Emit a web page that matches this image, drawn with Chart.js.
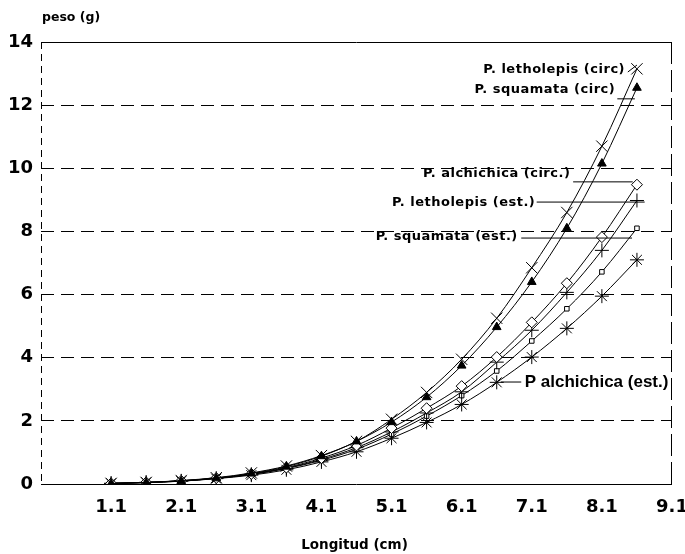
<!DOCTYPE html>
<html><head><meta charset="utf-8">
<script src="https://cdn.jsdelivr.net/npm/chart.js@4"></script>
<style>html,body{margin:0;padding:0;background:#fff}canvas{display:block}</style>
</head><body>
<canvas id="c" width="685" height="554"></canvas>
<script>
// ---- data ----
const lengths = [1.1,1.6,2.1,2.6,3.1,3.6,4.1,4.6,5.1,5.6,6.1,6.6,7.1,7.6,8.1,8.6];
const letholepisCirc  = [0.02,0.05,0.11,0.20,0.35,0.57,0.90,1.35,2.05,2.90,3.95,5.25,6.85,8.60,10.70,13.15];
const squamataCirc    = [0.01,0.04,0.09,0.18,0.33,0.55,0.88,1.35,1.96,2.75,3.75,4.97,6.40,8.10,10.15,12.55];
const alchichicaCirc  = [0.02,0.05,0.10,0.19,0.32,0.52,0.82,1.22,1.77,2.40,3.10,4.02,5.12,6.36,7.82,9.48];
const letholepisEst   = [0.02,0.05,0.10,0.18,0.31,0.50,0.78,1.15,1.65,2.25,2.92,3.86,4.87,6.07,7.40,8.98];
const squamataEst     = [0.02,0.05,0.10,0.18,0.30,0.49,0.75,1.10,1.58,2.15,2.80,3.58,4.53,5.55,6.72,8.10];
const alchichicaEst   = [0.02,0.05,0.09,0.17,0.28,0.45,0.70,1.02,1.45,1.95,2.52,3.22,4.02,4.93,5.95,7.10];
const xTicks = [1.1,2.1,3.1,4.1,5.1,6.1,7.1,8.1,9.1];
const yTicks = [0,2,4,6,8,10,12,14];
const seriesNames = ['P. letholepis (circ)','P. squamata (circ)','P. alchichica (circ.)','P. letholepis (est.)','P. squamata (est.)','P alchichica (est.)'];
const xTitle = 'Longitud (cm)';
const yTitle = 'peso (g)';

// label anchors (data units): text end/start, leader line
const labelAnchorX = [8.43, 8.29, 7.65, 7.15, 6.90, 7.00];
const labelAnchorY = [13.11,12.48, 9.82, 8.90, 7.82, 3.23];
const leaderX1 = [8.47, 8.32, 7.69, 7.17, 6.95, 6.95];
const leaderY1 = [13.05,12.20, 9.57, 8.93, 7.79, 3.23];
const leaderX2 = [8.60, 8.57, 8.54, 8.71, 8.53, 6.66];
const leaderY2 = [13.27,12.20, 9.57, 8.93, 7.79, 3.23];

const seriesValues = [letholepisCirc, squamataCirc, alchichicaCirc, letholepisEst, squamataEst, alchichicaEst];
const styles = [
  {pointStyle:'crossRot', pointRadius:8, bg:'#000'},
  {pointStyle:'triangle', pointRadius:5, bg:'#000'},
  {pointStyle:'rectRot', pointRadius:5.5, bg:'#fff'},
  {pointStyle:'cross', pointRadius:7, bg:'#000'},
  {pointStyle:'rect', pointRadius:3.2, bg:'#fff'},
  {pointStyle:'star', pointRadius:7, bg:'#000'}
];

const datasets = seriesValues.map((vals, i) => ({
  label: seriesNames[i],
  data: lengths.map((x, j) => ({x: x, y: vals[j]})),
  borderColor: '#000',
  borderWidth: 1,
  pointStyle: styles[i].pointStyle,
  pointRadius: styles[i].pointRadius,
  pointBackgroundColor: styles[i].bg,
  pointBorderColor: '#000',
  pointBorderWidth: 1,
  cubicInterpolationMode: 'monotone',
  fill: false
}));

const decor = {
  id: 'decor',
  afterDraw(chart) {
    const {ctx, chartArea: a, scales: {x, y}} = chart;
    ctx.save();
    ctx.strokeStyle = '#000';
    ctx.lineWidth = 1;
    // left dashed axis
    ctx.setLineDash([7,5]);
    ctx.beginPath(); ctx.moveTo(a.left + 0.5, a.top); ctx.lineTo(a.left + 0.5, a.bottom); ctx.stroke();
    // right dashed border
    ctx.setLineDash([22,6]);
    ctx.beginPath(); ctx.moveTo(a.right - 0.5, a.top); ctx.lineTo(a.right - 0.5, a.bottom); ctx.stroke();
    ctx.setLineDash([]);
    // labels
    ctx.fillStyle = '#000';
    ctx.textBaseline = 'middle';
    for (let i = 0; i < seriesNames.length; i++) {
      const tx = x.getPixelForValue(labelAnchorX[i]);
      const ty = y.getPixelForValue(labelAnchorY[i]);
      if (i === 5) {
        ctx.font = 'bold 17px "Liberation Sans", Arial, sans-serif';
        ctx.letterSpacing = '0px';
        ctx.textAlign = 'left';
      } else {
        ctx.font = 'bold 13px "DejaVu Sans", sans-serif';
        ctx.letterSpacing = '0.5px';
        ctx.textAlign = 'right';
      }
      ctx.fillText(seriesNames[i], tx, ty);
      ctx.beginPath();
      ctx.moveTo(x.getPixelForValue(leaderX1[i]), y.getPixelForValue(leaderY1[i]));
      ctx.lineTo(x.getPixelForValue(leaderX2[i]), y.getPixelForValue(leaderY2[i]));
      ctx.stroke();
    }
    ctx.letterSpacing = '0px';
    // titles
    ctx.font = 'bold 12.5px "DejaVu Sans", sans-serif';
    ctx.textAlign = 'left';
    ctx.fillText(yTitle, a.left + 1, 18);
    ctx.font = 'bold 13.5px "DejaVu Sans", sans-serif';
    ctx.textAlign = 'center';
    ctx.fillText(xTitle, (a.left + a.right) / 2 - 2, 545);
    ctx.restore();
  }
};

Chart.defaults.font.family = '"DejaVu Sans", sans-serif';
Chart.defaults.color = '#000';

new Chart(document.getElementById('c'), {
  type: 'line',
  data: {datasets},
  options: {
    responsive: false,
    animation: false,
    layout: {padding: {top: 42, right: 13, left: 0, bottom: 0}},
    plugins: {legend: {display: false}, tooltip: {enabled: false}},
    scales: {
      x: {
        type: 'linear', min: 0.1, max: 9.1,
        afterBuildTicks: s => { s.ticks = xTicks.map(v => ({value: v})); },
        ticks: {callback: v => Number(v).toFixed(1), font: {size: 18, weight: 'bold'}, color: '#000', padding: 13, maxRotation: 0, autoSkip: false},
        grid: {display: false, drawTicks: false},
        border: {display: false},
        afterFit: s => { s.height = 70; s.paddingLeft = 0; s.paddingRight = 0; }
      },
      y: {
        type: 'linear', min: 0, max: 14,
        afterBuildTicks: s => { s.ticks = yTicks.map(v => ({value: v})); },
        ticks: {font: {size: 18, weight: 'bold'}, color: '#000', padding: 8},
        grid: {color: '#000', lineWidth: 1, drawTicks: false},
        border: {display: false, dash: c => (c.tick && (c.tick.value === 0 || c.tick.value === 14)) ? [] : [13,7]},
        afterFit: s => { s.width = 41; s.paddingTop = 0; s.paddingBottom = 0; }
      }
    }
  },
  plugins: [decor]
});
</script>
</body></html>
